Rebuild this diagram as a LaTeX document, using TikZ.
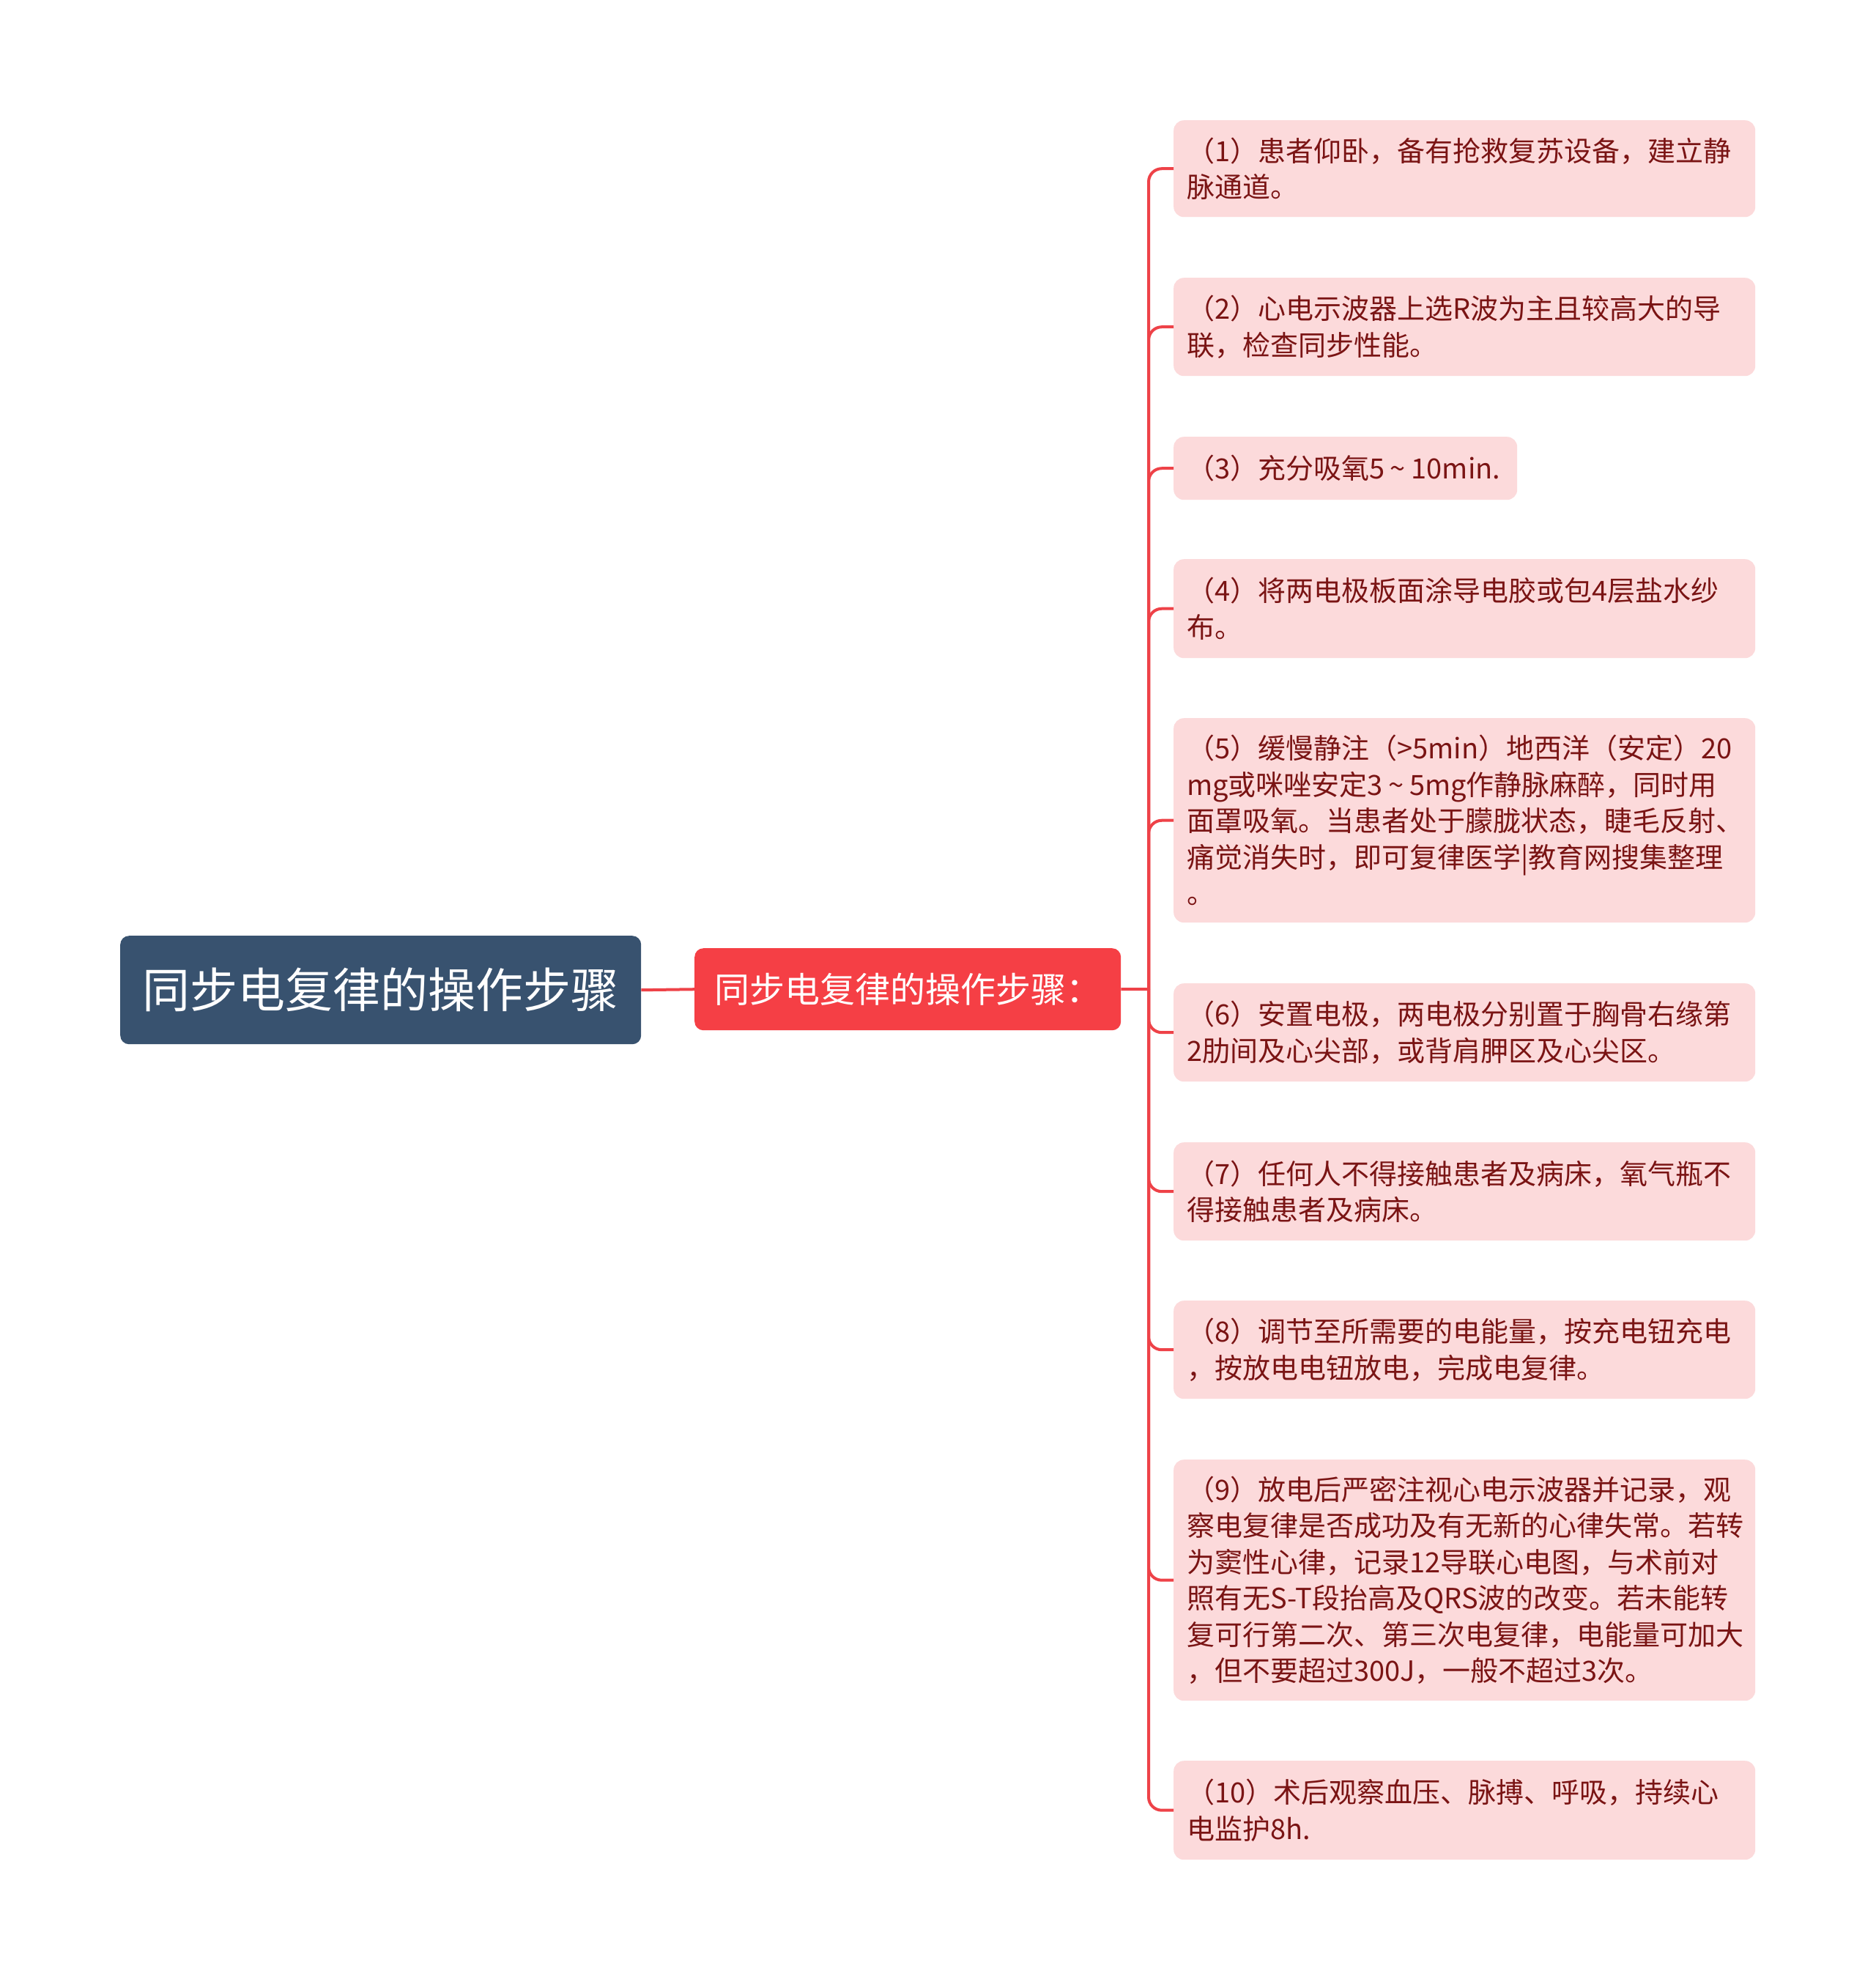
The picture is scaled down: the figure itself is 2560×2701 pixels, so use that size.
\documentclass[tikz,border=0pt]{standalone}
\usepackage{fontspec}
\setmainfont{Noto Sans CJK SC}
\definecolor{rootfill}{RGB}{56,82,111}
\definecolor{midfill}{RGB}{245,63,69}
\definecolor{leaffill}{RGB}{252,218,219}
\definecolor{leaftext}{RGB}{122,20,20}
\definecolor{linered}{RGB}{238,66,72}
\newcommand{\tld}{\hspace{0.2em}\textasciitilde\hspace{0.2em}}
\begin{document}
\begin{tikzpicture}[x=1pt,y=-1pt,
  rootbox/.style={fill=rootfill, rounded corners=12pt, anchor=north west, text=white,
    minimum width=711pt, minimum height=148pt, inner sep=0pt, font=\fontsize{65}{70}\selectfont},
  midbox/.style={fill=midfill, rounded corners=12pt, anchor=north west, text=white,
    minimum width=582pt, minimum height=112pt, inner sep=0pt, font=\fontsize{48}{54}\selectfont},
  leaf/.style={fill=leaffill, rounded corners=14pt, anchor=north west, inner xsep=18pt, inner ysep=0pt,
    text width=758pt, align=left, text=leaftext, font=\fontsize{38}{49.5}\selectfont},
  conn/.style={draw=linered, line width=4pt, rounded corners=18pt}
]
\useasboundingbox (0,0) rectangle (2560,2701);
\fill[white] (0,0) rectangle (2560,2701);

\node[rootbox] (root) at (164,1277) {同步电复律的操作步骤};
\node[midbox] (mid) at (948,1294) {同步电复律的操作步骤：};
\coordinate (j) at (1568,1350);

\node[leaf, minimum height=132pt] (c1) at (1602,164) {（1）患者仰卧，备有抢救复苏设备，建立静\\脉通道。};
\node[leaf, minimum height=134pt] (c2) at (1602,379) {（2）心电示波器上选R波为主且较高大的导\\联，检查同步性能。};
\node[leaf, minimum height=86pt, text width=433pt] (c3) at (1602,596) {（3）充分吸氧5\tld 10min.};
\node[leaf, minimum height=135pt] (c4) at (1602,763) {（4）将两电极板面涂导电胶或包4层盐水纱\\布。};
\node[leaf, minimum height=279pt] (c5) at (1602,980) {（5）缓慢静注（>5min）地西洋（安定）20\\mg或咪唑安定3\tld 5mg作静脉麻醉，同时用\\面罩吸氧。当患者处于朦胧状态，睫毛反射、\\痛觉消失时，即可复律医学|教育网搜集整理\\。};
\node[leaf, minimum height=134pt] (c6) at (1602,1342) {（6）安置电极，两电极分别置于胸骨右缘第\\2肋间及心尖部，或背肩胛区及心尖区。};
\node[leaf, minimum height=134pt] (c7) at (1602,1559) {（7）任何人不得接触患者及病床，氧气瓶不\\得接触患者及病床。};
\node[leaf, minimum height=134pt] (c8) at (1602,1775) {（8）调节至所需要的电能量，按充电钮充电\\，按放电电钮放电，完成电复律。};
\node[leaf, minimum height=329pt] (c9) at (1602,1992) {（9）放电后严密注视心电示波器并记录，观\\察电复律是否成功及有无新的心律失常。若转\\为窦性心律，记录12导联心电图，与术前对\\照有无S-T段抬高及QRS波的改变。若未能转\\复可行第二次、第三次电复律，电能量可加大\\，但不要超过300J，一般不超过3次。};
\node[leaf, minimum height=135pt] (c10) at (1602,2403) {（10）术后观察血压、脉搏、呼吸，持续心\\电监护8h.};

\draw[conn] (root.east) -- (mid.west);
\draw[conn] (mid.east) -- (j);
\foreach \c in {c1,c2,c3,c4,c5,c6,c7,c8,c9,c10} {
  \draw[conn] (j) |- (\c.west);
}
\end{tikzpicture}
\end{document}
